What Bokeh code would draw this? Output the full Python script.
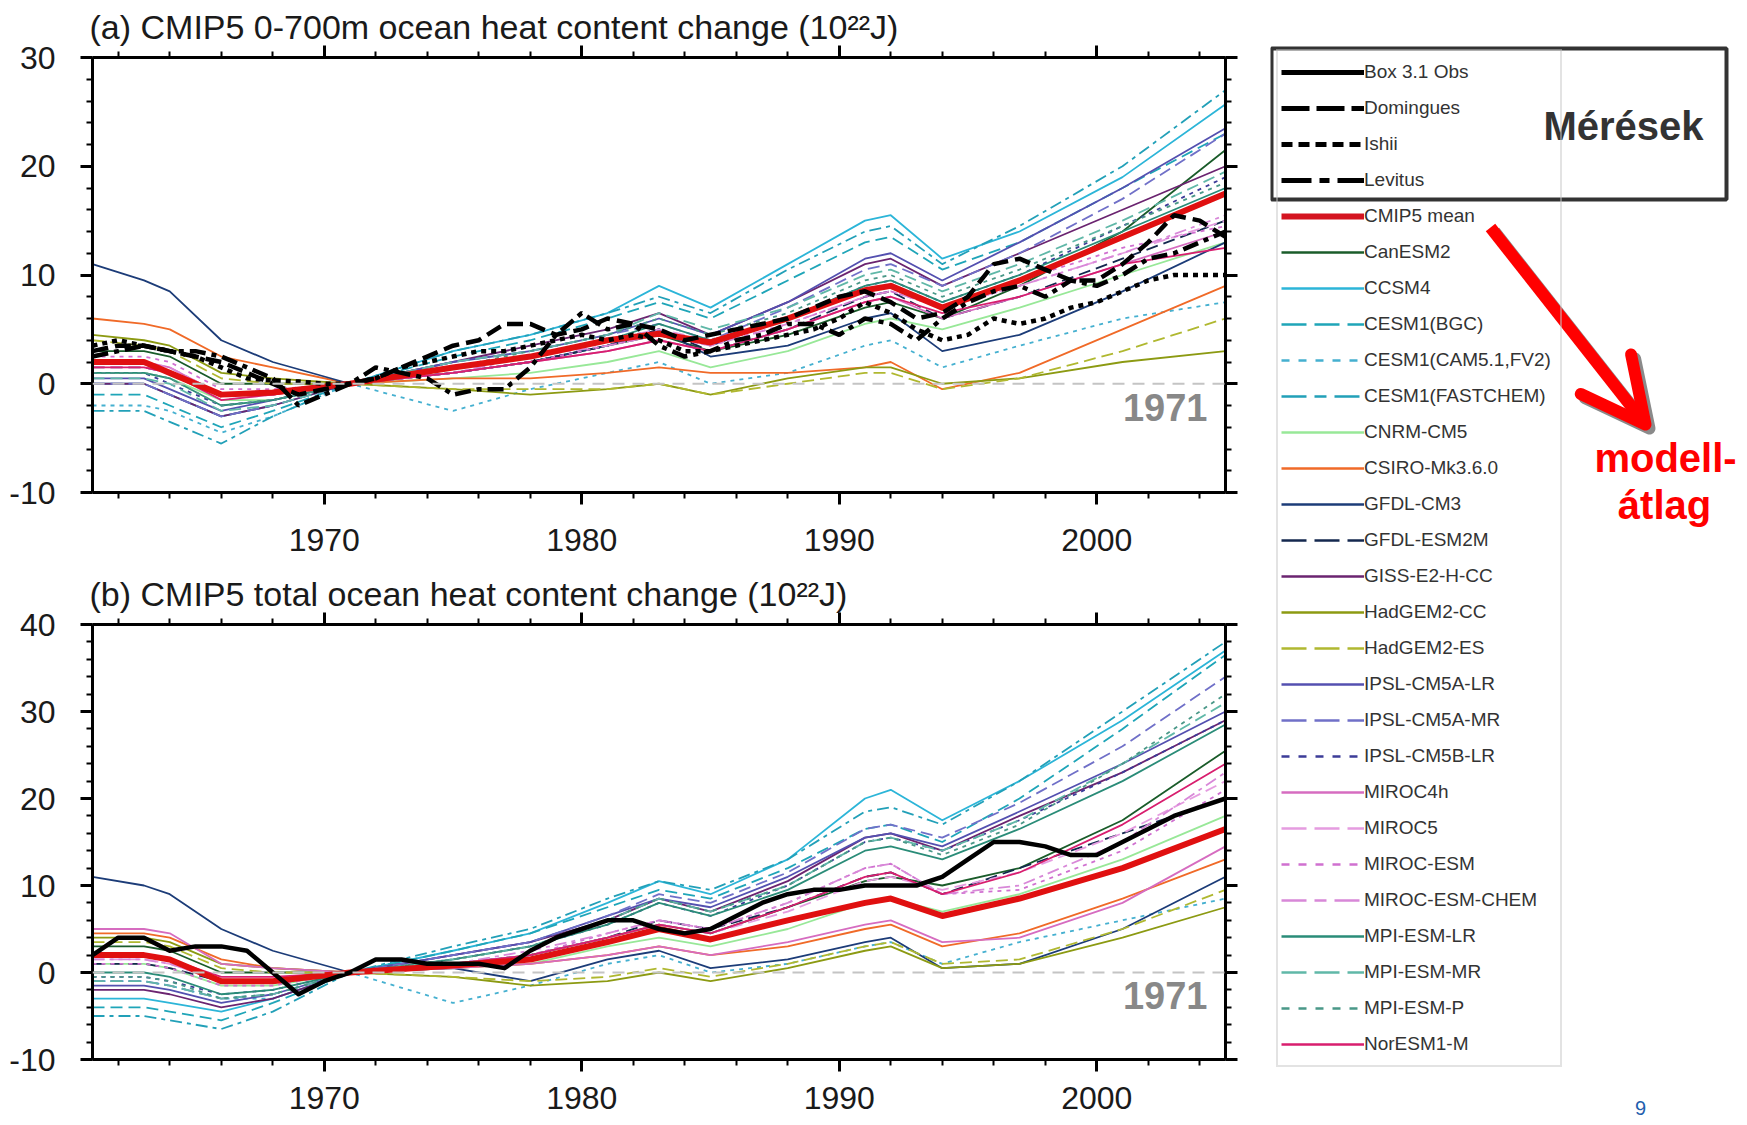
from bokeh.plotting import figure
from bokeh.models import (FixedTicker, LinearAxis, Range1d, Span, Label, Legend,
                          LegendItem, Arrow, OpenHead, BoxAnnotation)
from bokeh.layouts import row, column
from bokeh.embed import file_html
from bokeh.resources import INLINE

FONT = "Liberation Sans"

# ---------------- data ----------------
model_years = [1961, 1963, 1964, 1966, 1968, 1971, 1975, 1978, 1981, 1983, 1985,
               1988, 1991, 1992, 1994, 1997, 2001, 2005]
obs_years = list(range(1961, 2006))

x_major = [1970, 1980, 1990, 2000]
x_minor = list(range(1962, 2005, 2))
ya_major = [-10, 0, 10, 20, 30]
ya_minor = list(range(-10, 31, 2))
yb_major = [-10, 0, 10, 20, 30, 40]
yb_minor = list(range(-10, 41, 2))

model_names = ["CanESM2", "CCSM4", "CESM1(BGC)", "CESM1(CAM5.1,FV2)", "CESM1(FASTCHEM)",
               "CNRM-CM5", "CSIRO-Mk3.6.0", "GFDL-CM3", "GFDL-ESM2M", "GISS-E2-H-CC",
               "HadGEM2-CC", "HadGEM2-ES", "IPSL-CM5A-LR", "IPSL-CM5A-MR", "IPSL-CM5B-LR",
               "MIROC4h", "MIROC5", "MIROC-ESM", "MIROC-ESM-CHEM", "MPI-ESM-LR",
               "MPI-ESM-MR", "MPI-ESM-P", "NorESM1-M"]
model_colors = ["#1a5c2a", "#2cb5d8", "#1fa5b8", "#45b0d0", "#22a0b8",
                "#98e898", "#f06a28", "#1c3c78", "#14284f", "#6b2470",
                "#8c9a12", "#b0b830", "#5450b0", "#7070c8", "#3c3c98",
                "#d66cc0", "#e59ce0", "#d070d0", "#d888d8", "#2a8c78",
                "#60b8a8", "#4a9888", "#d81e6e"]
model_styles = ["solid", "solid", "dashed", "dotted", "dashdot",
                "solid", "solid", "solid", "dashed", "solid",
                "solid", "dashed", "solid", "dashed", "dotted",
                "solid", "dashed", "dotted", "dashdot", "solid",
                "dashed", "dotted", "solid"]

# (a) 0-700 m ocean heat content change, 10^22 J
a_canesm2 = [3, 3, 2.5, 0, 0, 0, 1, 2, 3.5, 4.5, 3, 4.5, 7, 7.5, 6, 9, 14, 21.5]
a_ccsm4 = [0, 0, -1, -3, -2, 0, 3, 4.5, 6.5, 9, 7, 11, 15, 15.5, 11.5, 14, 19, 25.7]
a_cesm1_bgc = [-1, -1, -2, -4, -2.5, 0, 2.5, 4, 6, 7.5, 6, 9.5, 13, 13.5, 10.5, 13, 18, 23]
a_cesm1_cam5 = [-2, -2, -2.5, -4.5, -3, 0, -2.5, -0.5, 1, 2, 0, 1, 3.5, 4, 1.5, 3.5, 6, 7.5]
a_cesm1_fastchem = [-2.5, -2.5, -3.5, -5.5, -3, 0, 3, 4.5, 6.5, 8, 6.5, 10.5, 14, 14.5, 11, 14.5, 20, 27]
a_cnrm_cm5 = [1, 1, 0.5, -1.5, -1.5, 0, 0.5, 1, 2, 3, 1.5, 3, 5.5, 6, 5, 7, 10, 13]
a_csiro = [6, 5.5, 5, 2.5, 1.5, 0, 0.5, 0.5, 1, 1.5, 1, 1, 1.5, 2, -0.5, 1, 5, 9]
a_gfdl_cm3 = [11, 9.5, 8.5, 4, 2, 0, 1, 2, 3.5, 5, 2.5, 3.5, 6, 6.5, 3, 4.5, 8.5, 13]
a_gfdl_esm2m = [1.5, 1.5, 1, -1, -1, 0, 1, 2, 3.5, 5, 3, 5, 8, 8.5, 6, 8, 11.5, 15]
a_giss = [0, 0, -1, -3, -2, 0, 2, 3.5, 5, 6.5, 4.5, 7.5, 11, 11.5, 9, 12, 16, 20]
a_hadgem2_cc = [4.5, 4, 3.5, 1, 0.5, 0, -0.5, -1, -0.5, 0, -1, 0.5, 1.5, 1.5, 0, 0.5, 2, 3]
a_hadgem2_es = [4, 3.5, 3, 0.5, 0, 0, -0.5, -0.5, -0.5, 0, -1, 0, 1, 1, -0.5, 0.5, 3, 6]
a_ipsl_cm5a_lr = [0.5, 0.5, -0.5, -2.5, -1.5, 0, 2, 3, 4.5, 6, 4.5, 7.5, 11.5, 12, 9.5, 13, 18, 23.5]
a_ipsl_cm5a_mr = [0, 0, -1, -3, -2, 0, 2, 3, 4.5, 5.5, 4, 7, 10.5, 11, 9, 12, 17, 23]
a_ipsl_cm5b_lr = [1, 1, 0, -2, -1.5, 0, 1.5, 2.5, 4, 5, 3.5, 6, 9, 9.5, 7.5, 10, 14.5, 19]
a_miroc4h = [2, 2, 1.5, -1, -1, 0, 1, 2, 3, 4, 3, 5, 7.5, 8, 6, 8, 11, 14]
a_miroc5 = [1.5, 1.5, 1, -1.5, -1, 0, 1.5, 2.5, 4, 5, 4, 6, 8.5, 9, 7, 9, 12, 15]
a_miroc_esm = [2.5, 2.5, 2, -0.5, -0.5, 0, 1, 2, 3.5, 4.5, 3.5, 5.5, 8, 8.5, 7, 9.5, 12.5, 14.5]
a_miroc_esm_chem = [2, 2, 1.5, -1, -1, 0, 1, 2.5, 3.5, 4.5, 3.5, 5.5, 8, 8.5, 7, 9, 12, 15.5]
a_mpi_esm_lr = [1, 1, 0.5, -2, -1.5, 0, 1.5, 2.5, 4, 5.5, 4, 6, 9, 9.5, 7.5, 10, 14, 18]
a_mpi_esm_mr = [0.5, 0.5, 0, -2.5, -2, 0, 2, 3, 4.5, 6.5, 5, 7, 10, 10.5, 8.5, 11, 15, 19.5]
a_mpi_esm_p = [1, 1, 0.5, -2, -1.5, 0, 1.5, 3, 4.5, 6, 4.5, 6.5, 9.5, 10, 8, 10.5, 14.5, 18.5]
a_noresm1_m = [1.5, 1.5, 1, -1.5, -1, 0, 1, 2, 3, 4, 3, 5, 7.5, 8, 6.5, 8, 11, 12.5]
a_mean = [2, 2, 1, -1, -0.8, 0, 1.5, 2.5, 4, 4.6, 3.8, 6, 8.6, 9, 7, 9.5, 13.5, 17.5]

a_domingues = [3, 3.5, 3.5, 3, 2.5, 2, 1, 0, -1, -0.5, 0, 0.5, 1.5, 2.5, 3.5, 4, 5.5, 5.5,
               4.5, 5, 6, 5.5, 5, 4, 4.5, 5, 5.5, 6, 7, 8, 8.5, 7.5, 6, 6.5, 8, 11, 11.5,
               10.5, 9.5, 9.5, 11, 13, 15.5, 15, 13.5]
a_ishii = [3.5, 4, 3.5, 3, 2.5, 1.5, 0.5, 0.3, 0.2, 0, 0, 0.5, 1.5, 2, 2.5, 3, 3, 3.5,
           4, 4.5, 4, 4.5, 4, 3, 3, 3.5, 4, 4.5, 5, 6, 7.5, 6.5, 5, 4, 4.5, 6, 5.5, 6, 7,
           7.5, 8.5, 9.5, 10, 10, 10]
a_levitus = [2.5, 3, 3.5, 3, 3, 2.5, 1.5, 0.5, -2, -1, 0, 1.5, 1, 0.5, -1, -0.5, -0.5,
             1.5, 4.5, 6.5, 5, 5.5, 3.5, 2.5, 3, 4, 4.5, 5.5, 5.5, 4.5, 6, 5.5, 4, 6, 7.5,
             8.5, 9, 8, 9.5, 9, 10, 11.5, 12, 13, 14]

# (b) total ocean heat content change, 10^22 J
b_canesm2 = [3, 3, 2.5, 0, 0, 0, 1, 2, 4, 5.5, 4.5, 7.5, 10.5, 11, 10, 12, 17.5, 25.5]
b_ccsm4 = [-3, -3, -3.5, -4.5, -3, 0, 2.5, 4.5, 8, 10.5, 9, 13, 20, 21, 17.5, 22, 29, 37]
b_cesm1_bgc = [-4, -4, -4.5, -5.5, -3.5, 0, 2.5, 4.5, 7.5, 9.5, 8.5, 12, 16.5, 17, 15, 20, 28, 36.5]
b_cesm1_cam5 = [-1, -1, -1.5, -3, -3, 0, -3.5, -1.5, 1, 2, 0, 1, 3, 3.5, 1, 3.5, 6, 8.5]
b_cesm1_fastchem = [-5, -5, -5.5, -6.5, -4.5, 0, 3, 5, 8.5, 10.5, 9.5, 13, 18.5, 19, 17, 22, 30, 38]
b_cnrm_cm5 = [1, 1, 0.5, -1.5, -1.5, 0, 0.5, 1, 3, 4, 3, 5, 8, 8.5, 7, 9, 13, 18]
b_csiro = [4.5, 4.5, 4, 1.5, 0.5, 0, 0.5, 1, 2, 3, 2, 3, 5, 5.5, 3, 4.5, 8.5, 13]
b_gfdl_cm3 = [11, 10, 9, 5, 2.5, 0, 0.5, -1, 1.5, 2.5, 0.5, 1.5, 3.5, 4, 0.5, 1, 5, 11]
b_gfdl_esm2m = [1, 1, 0.5, -1, -1, 0, 1, 2, 4, 6, 5, 7.5, 11, 11.5, 9, 12, 16, 20]
b_giss = [-2, -2, -2.5, -4, -3, 0, 2, 3.5, 6, 8.5, 7, 10.5, 15.5, 16, 14, 18, 23, 29]
b_hadgem2_cc = [4, 4, 3.5, 1, 0.5, 0, -0.5, -1.5, -1, 0, -1, 0.5, 2.5, 3, 0.5, 1, 4, 7.5]
b_hadgem2_es = [3.5, 3.5, 3, 0.5, 0, 0, -0.5, -1, -0.5, 0.5, -0.5, 1, 3, 3.5, 1, 1.5, 5, 9.5]
b_ipsl_cm5a_lr = [-1.5, -1.5, -2, -3.5, -2.5, 0, 2, 3.5, 6.5, 8.5, 7.5, 11, 15.5, 16, 14.5, 18.5, 24, 30]
b_ipsl_cm5a_mr = [-1, -1, -1.5, -3, -2.5, 0, 2, 3.5, 6.5, 9, 8, 11.5, 16.5, 17, 15.5, 19.5, 26, 34]
b_ipsl_cm5b_lr = [-0.5, -0.5, -1, -2.5, -2, 0, 1.5, 3, 5.5, 8, 6.5, 10, 15, 15.5, 14, 17.5, 23, 29]
b_miroc4h = [5, 5, 4.5, 1, 0.5, 0, 0.5, 1, 2, 3, 2, 3.5, 5.5, 6, 3.5, 4, 8, 14.5]
b_miroc5 = [1.5, 1.5, 1, -1, -1, 0, 1, 2, 4, 5.5, 4.5, 7, 10.5, 11, 9.5, 11.5, 16, 22]
b_miroc_esm = [1, 1, 0.5, -1.5, -1.5, 0, 1, 2, 4.5, 6, 5, 8, 12, 12.5, 9, 9.5, 14, 21]
b_miroc_esm_chem = [1.5, 1.5, 1, -1, -1, 0, 1, 2.5, 4.5, 6, 5, 8, 12, 12.5, 9, 10, 15, 23]
b_mpi_esm_lr = [0, 0, -0.5, -2.5, -2, 0, 1.5, 3, 5.5, 8, 6.5, 9.5, 14, 14.5, 13, 16.5, 22, 28.5]
b_mpi_esm_mr = [-1, -1, -1.5, -3, -2.5, 0, 1.5, 3, 6, 8.5, 7, 10, 15, 15.5, 14, 17.5, 24, 31]
b_mpi_esm_p = [-0.5, -0.5, -1, -3, -2.5, 0, 1.5, 3, 6, 8.5, 7, 10, 15, 15.5, 13.5, 17, 24, 32]
b_noresm1_m = [2, 2, 1.5, -0.5, -0.5, 0, 1, 2, 4, 5.5, 4.5, 7.5, 11, 11.5, 9, 11.5, 17, 24]
b_mean = [2, 2, 1.5, -1, -1, 0, 0.8, 1.5, 3.5, 5, 3.8, 6, 8, 8.5, 6.5, 8.5, 12, 16.5]

b_box31_obs = [2, 4, 4, 2.5, 3, 3, 2.5, 0, -2.5, -1, 0, 1.5, 1.5, 1, 1, 1, 0.5, 2.5, 4,
               5, 6, 6, 5, 4.5, 5, 6.5, 8, 9, 9.5, 9.5, 10, 10, 10, 11, 13, 15, 15, 14.5,
               13.5, 13.5, 15, 16.5, 18, 19, 20]

a_models = [a_canesm2, a_ccsm4, a_cesm1_bgc, a_cesm1_cam5, a_cesm1_fastchem, a_cnrm_cm5,
            a_csiro, a_gfdl_cm3, a_gfdl_esm2m, a_giss, a_hadgem2_cc, a_hadgem2_es,
            a_ipsl_cm5a_lr, a_ipsl_cm5a_mr, a_ipsl_cm5b_lr, a_miroc4h, a_miroc5,
            a_miroc_esm, a_miroc_esm_chem, a_mpi_esm_lr, a_mpi_esm_mr, a_mpi_esm_p,
            a_noresm1_m]
b_models = [b_canesm2, b_ccsm4, b_cesm1_bgc, b_cesm1_cam5, b_cesm1_fastchem, b_cnrm_cm5,
            b_csiro, b_gfdl_cm3, b_gfdl_esm2m, b_giss, b_hadgem2_cc, b_hadgem2_es,
            b_ipsl_cm5a_lr, b_ipsl_cm5a_mr, b_ipsl_cm5b_lr, b_miroc4h, b_miroc5,
            b_miroc_esm, b_miroc_esm_chem, b_mpi_esm_lr, b_mpi_esm_mr, b_mpi_esm_p,
            b_noresm1_m]

obs_names = ["Box 3.1 Obs", "Domingues", "Ishii", "Levitus"]

# ---------------- styling helpers ----------------
PLOT_DASH = {"solid": "solid", "dashed": "12 6", "dotted": "4 5", "dashdot": "12 5 4 5"}
LEG_DASH = {"solid": "solid", "dashed": "25 8", "dotted": "8 9", "dashdot": "25 8 12 8"}
TXT = "#1a1a1a"
LEFT_W = 1270


def style_axis(ax, show_labels, standoff=20):
    ax.axis_line_width = 3
    ax.axis_line_color = "black"
    ax.major_tick_line_width = 3
    ax.minor_tick_line_width = 2
    ax.major_tick_out = 12
    ax.major_tick_in = 0
    ax.minor_tick_out = 6
    ax.minor_tick_in = 0
    ax.major_label_text_font = FONT
    if show_labels:
        ax.major_label_text_font_size = "32px"
        ax.major_label_text_color = TXT
        ax.major_label_standoff = standoff
        ax.major_label_overrides = {-10: "-10"}
    else:
        ax.major_label_text_font_size = "1px"
        ax.major_label_text_alpha = 0
        ax.major_label_standoff = 0


def make_panel(height, top_border, bottom_border, yr, ymaj, ymin, title, x_standoff):
    p = figure(width=LEFT_W, height=height, x_range=Range1d(1961, 2005),
               y_range=Range1d(*yr), output_backend="svg", toolbar_location=None,
               min_border_left=92, min_border_right=45,
               min_border_top=top_border, min_border_bottom=bottom_border)
    p.grid.visible = False
    p.outline_line_color = None
    p.background_fill_color = "white"
    p.border_fill_color = "white"
    p.title.text = title
    p.title.text_font = FONT
    p.title.text_font_size = "34px"
    p.title.text_font_style = "normal"
    p.title.text_color = TXT
    p.title.align = "left"
    p.title.offset = -3
    p.title.standoff = 0
    p.xaxis.ticker = FixedTicker(ticks=x_major, minor_ticks=x_minor)
    p.yaxis.ticker = FixedTicker(ticks=ymaj, minor_ticks=ymin)
    style_axis(p.xaxis[0], True, x_standoff)
    style_axis(p.yaxis[0], True, 25)
    top = LinearAxis(ticker=FixedTicker(ticks=x_major, minor_ticks=x_minor))
    style_axis(top, False)
    p.add_layout(top, "above")
    right = LinearAxis(ticker=FixedTicker(ticks=ymaj, minor_ticks=ymin))
    style_axis(right, False)
    p.add_layout(right, "right")
    p.add_layout(Span(location=0, dimension="width", line_color="#c4c4c4",
                      line_dash="12 8", line_width=2))
    return p


def draw_models(p, series):
    for vals, col, sty in zip(series, model_colors, model_styles):
        p.line(model_years, vals, line_color=col, line_width=1.8,
               line_dash=PLOT_DASH[sty], line_join="round")


# ---------------- panel (a) ----------------
pa = make_panel(567, 57, 75, (-10, 30), ya_major, ya_minor,
                "(a) CMIP5 0-700m ocean heat content change (10\u00b2\u00b2J)", 24)
draw_models(pa, a_models)
pa.line(model_years, a_mean, line_color="#e01010", line_width=6, line_join="round")
pa.line(obs_years, a_ishii, line_color="black", line_width=4.5, line_dash="5 5")
pa.line(obs_years, a_levitus, line_color="black", line_width=4.5, line_dash="16 6 5 6")
pa.line(obs_years, a_domingues, line_color="black", line_width=4.5, line_dash="16 7")
pa.add_layout(Label(x=2004.3, y=-2.2, text="1971", text_font=FONT, text_font_size="38px",
                    text_font_style="bold", text_color="#888888", text_align="right",
                    text_baseline="middle"))

# ---------------- panel (b) ----------------
pb = make_panel(558, 57, 66, (-10, 40), yb_major, yb_minor,
                "(b) CMIP5 total ocean heat content change (10\u00b2\u00b2J)", 15)
draw_models(pb, b_models)
pb.line(model_years, b_mean, line_color="#e01010", line_width=6, line_join="round")
pb.line(obs_years, b_box31_obs, line_color="black", line_width=4.5, line_join="round")
pb.add_layout(Label(x=2004.3, y=-2.6, text="1971", text_font=FONT, text_font_size="38px",
                    text_font_style="bold", text_color="#888888", text_align="right",
                    text_baseline="middle"))

# ---------------- legend / annotation panel ----------------
PC_W, PC_H = 470, 1125
pc = figure(width=PC_W, height=PC_H, x_range=Range1d(LEFT_W, LEFT_W + PC_W),
            y_range=Range1d(PC_H, 0), output_backend="svg", toolbar_location=None,
            x_axis_location=None, y_axis_location=None, min_border_left=0,
            min_border_right=0, min_border_top=0, min_border_bottom=0)
pc.grid.visible = False
pc.outline_line_color = None
pc.background_fill_color = "white"
pc.border_fill_color = "white"

items = []
obs_dash = ["solid", "28 7", "11 6", "30 8 10 8"]
for name, d in zip(obs_names, obs_dash):
    r = pc.line(x=[0, 1], y=[0, 0], line_color="black", line_width=5, line_dash=d)
    items.append(LegendItem(label=name, renderers=[r]))
r = pc.line(x=[0, 1], y=[0, 0], line_color="#d41420", line_width=6)
items.append(LegendItem(label="CMIP5 mean", renderers=[r]))
for name, col, sty in zip(model_names, model_colors, model_styles):
    r = pc.line(x=[0, 1], y=[0, 0], line_color=col, line_width=2.5, line_dash=LEG_DASH[sty])
    items.append(LegendItem(label=name, renderers=[r]))

leg = Legend(items=items, location=(6, PC_H - 1067), glyph_width=83, glyph_height=36,
             label_height=36, label_width=193, label_standoff=0, spacing=0, padding=3,
             margin=0, label_text_font=FONT, label_text_font_size="19px",
             label_text_color="#333333", border_line_color="#c8c8c8",
             border_line_width=2, background_fill_alpha=0)
pc.add_layout(leg)

pc.add_layout(BoxAnnotation(left=1271, right=1726, top=48, bottom=199, fill_alpha=0,
                            line_color="#333333", line_alpha=1, line_width=4))
pc.add_layout(Label(x=1623, y=125, text="Mérések", text_font=FONT, text_font_size="40px",
                    text_font_style="bold", text_color="#333333", text_align="center",
                    text_baseline="middle"))

# arrow with shadow
pc.add_layout(Arrow(x_start=1494, y_start=231, x_end=1649, y_end=428, line_width=12,
                    line_color="#8a8a8a",
                    end=OpenHead(size=64, line_width=12, line_color="#8a8a8a",
                                 line_cap="round", line_join="round")))
pc.add_layout(Arrow(x_start=1490, y_start=227, x_end=1645, y_end=424, line_width=12,
                    line_color="#ff0000",
                    end=OpenHead(size=64, line_width=12, line_color="#ff0000",
                                 line_cap="round", line_join="round")))
pc.add_layout(Label(x=1665, y=457, text="modell-", text_font=FONT, text_font_size="40px",
                    text_font_style="bold", text_color="#ff0000", text_align="center",
                    text_baseline="middle"))
pc.add_layout(Label(x=1664, y=504, text="átlag", text_font=FONT, text_font_size="40px",
                    text_font_style="bold", text_color="#ff0000", text_align="center",
                    text_baseline="middle"))
pc.add_layout(Label(x=1640, y=1107, text="9", text_font=FONT, text_font_size="20px",
                    text_color="#1f5fae", text_align="center", text_baseline="middle"))

layout = row(column(pa, pb), pc)
open("out.html", "w").write(file_html(layout, INLINE))
